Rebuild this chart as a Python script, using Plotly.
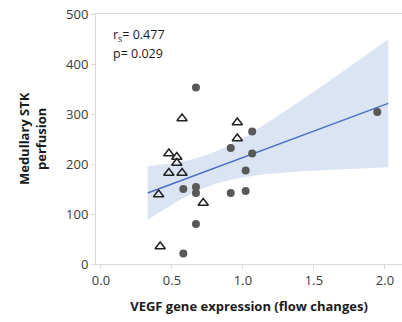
import numpy as np
import plotly.graph_objects as go

# Data
circle_x = [0.669, 1.946, 1.065, 0.914, 1.065, 1.019, 0.669, 0.580, 0.669, 0.914, 1.019, 0.669, 0.580]
circle_y = [353, 304, 265, 232, 221, 187, 154, 150, 142, 142, 146, 80, 21]
tri_x = [0.571, 0.960, 0.960, 0.478, 0.534, 0.534, 0.478, 0.571, 0.406, 0.720, 0.417]
tri_y = [291, 283, 251, 221, 214, 202, 182, 182, 139, 122, 35]
x_ticks = [0.0, 0.5, 1.0, 1.5, 2.0]
y_ticks = [0, 100, 200, 300, 400, 500]
stat_lines = ["r<sub>s</sub>= 0.477", "p= 0.029"]
T_CRIT = 2.074  # t(0.975, df=22)

# Linear regression with 95% CI of the mean
xs = np.array(circle_x + tri_x)
ys = np.array(circle_y + tri_y)
n = len(xs)
slope, intercept = np.polyfit(xs, ys, 1)
resid = ys - (slope * xs + intercept)
s = np.sqrt(np.sum(resid ** 2) / (n - 2))
xbar = xs.mean()
sxx = np.sum((xs - xbar) ** 2)
span = xs.max() - xs.min()
xf = np.linspace(xs.min() - 0.05 * span, xs.max() + 0.05 * span, 100)
yf = slope * xf + intercept
half = T_CRIT * s * np.sqrt(1 / n + (xf - xbar) ** 2 / sxx)
lo, hi = yf - half, yf + half

fig = go.Figure()
fig.add_trace(go.Scatter(
    x=np.concatenate([xf, xf[::-1]]), y=np.concatenate([hi, lo[::-1]]),
    fill="toself", fillcolor="#dae4f2", line=dict(width=0), mode="lines",
    hoverinfo="skip", showlegend=False))
fig.add_trace(go.Scatter(x=xf, y=yf, mode="lines",
                         line=dict(color="#4a6fc4", width=1.5), showlegend=False))
fig.add_trace(go.Scatter(x=circle_x, y=circle_y, mode="markers",
                         marker=dict(symbol="circle", size=8, color="#595959",
                                     line=dict(width=0)), showlegend=False))
fig.add_trace(go.Scatter(x=tri_x, y=tri_y, mode="markers",
                         marker=dict(symbol="triangle-up-open", size=9, color="#222222",
                                     line=dict(width=1.5)), showlegend=False))

axis_common = dict(showgrid=False, zeroline=False, showline=True, linecolor="#d9d9d9",
                   linewidth=1, ticks="outside", ticklen=4, tickcolor="#d9d9d9",
                   tickfont=dict(family="Open Sans", size=13, color="#3a3a3a"))
fig.update_xaxes(range=[-0.035, 2.12], tickvals=x_ticks, tickformat=".1f",
                 mirror=True, **axis_common,
                 title=dict(text="<b>VEGF gene expression (flow changes)</b>",
                            font=dict(family="Open Sans", size=13, color="#1a1a1a"),
                            standoff=14))
fig.update_yaxes(range=[0, 500], tickvals=y_ticks, **axis_common)

fig.add_annotation(text="<b>Medullary STK<br>perfusion</b>", textangle=-90,
                   xref="paper", yref="paper", x=-0.209, y=0.5,
                   xanchor="center", yanchor="middle", showarrow=False,
                   font=dict(family="Open Sans", size=13, color="#1a1a1a"))
for i, t in enumerate(stat_lines):
    fig.add_annotation(text=t, xref="paper", yref="paper", x=0.05, y=0.912 - i * 0.07,
                       xanchor="left", yanchor="middle", showarrow=False,
                       font=dict(family="Open Sans", size=12.5, color="#1a1a1a"))

fig.update_layout(width=402, height=322, margin=dict(l=96, r=0, t=14, b=58),
                  paper_bgcolor="white", plot_bgcolor="white")
fig.write_html("out.html")
